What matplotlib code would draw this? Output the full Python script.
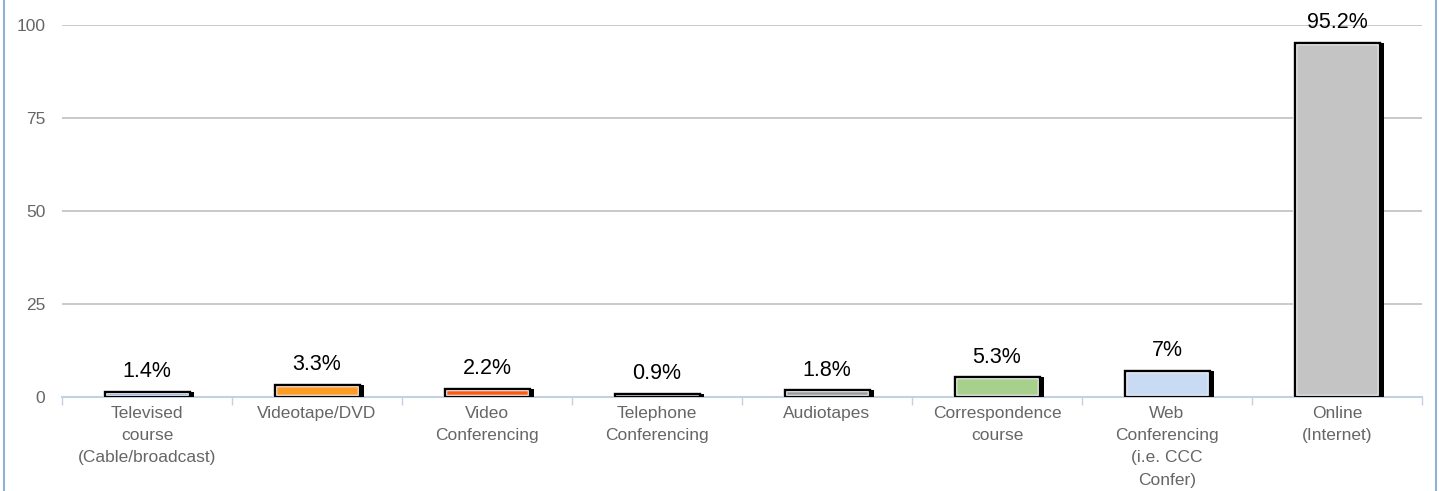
import numpy as np
import matplotlib.pyplot as plt
from matplotlib.lines import Line2D

categories = ['Televised\ncourse\n(Cable/broadcast)', 'Videotape/DVD', 'Video\nConferencing',
              'Telephone\nConferencing', 'Audiotapes', 'Correspondence\ncourse',
              'Web\nConferencing\n(i.e. CCC\nConfer)', 'Online\n(Internet)']
values = [1.4, 3.3, 2.2, 0.9, 1.8, 5.3, 7.0, 95.2]
labels = ['1.4%', '3.3%', '2.2%', '0.9%', '1.8%', '5.3%', '7%', '95.2%']
colors = ['#5a8ee0', '#ff9a22', '#ff5a0c', '#ffffff', '#9a9a9a', '#a8d08d', '#c9daf4', '#c4c4c4']
yticks = [0, 25, 50, 75, 100]

plt.rcParams['font.family'] = ['Liberation Sans', 'DejaVu Sans']

fig = plt.figure(figsize=(14.39, 4.91), dpi=100)
ax = fig.add_axes([62/1439, (491-397)/491, (1422-62)/1439, (397-25)/491])

x = np.arange(len(values))
w = 0.5
# fill with a white inner rim, then black outline
ax.bar(x, values, width=w, color=colors, edgecolor='white', linewidth=3.2, zorder=3)
ax.bar(x, values, width=w, fill=False, edgecolor='black', linewidth=1.7, zorder=4)
# shadow on the right side
ax.bar(x + w/2, values, width=0.025, align='edge', color='black', linewidth=0, zorder=4)

for xi, v, lab in zip(x, values, labels):
    ax.annotate(lab, (xi, v), xytext=(0, 7), textcoords='offset points',
                ha='center', va='bottom', fontsize=15.5, color='black')

ax.set_xlim(-0.5, len(values) - 0.5)
ax.set_ylim(0, 100)
ax.set_yticks(yticks)
ax.set_xticks(x)
ax.set_xticks(np.arange(len(values) + 1) - 0.5, minor=True)
ax.tick_params(axis='x', which='major', length=0, pad=6.5, labelsize=12.5, labelcolor='#666666')
ax.tick_params(axis='x', which='minor', length=6, width=1.0, color='#c3d1e3')
ax.tick_params(axis='y', length=0, pad=12, labelsize=12.5, labelcolor='#666666')
ax.set_xticklabels(categories)
for t in ax.get_xticklabels():
    t.set_linespacing(1.6)

ax.grid(axis='y', color='#c0c0c0', linewidth=1.2, zorder=0)
for s in ['top', 'right', 'left']:
    ax.spines[s].set_visible(False)
ax.spines['bottom'].set_color('#c3d1e3')
ax.spines['bottom'].set_linewidth(1.5)
ax.spines['bottom'].set_zorder(2)

# frame lines on the figure sides
fig.add_artist(Line2D([4/1439, 4/1439], [0, 1], color='#8fb0d8', linewidth=1.5))
fig.add_artist(Line2D([1436/1439, 1436/1439], [0, 1], color='#8fb0d8', linewidth=1.5))

plt.savefig('out.png', dpi=100)
